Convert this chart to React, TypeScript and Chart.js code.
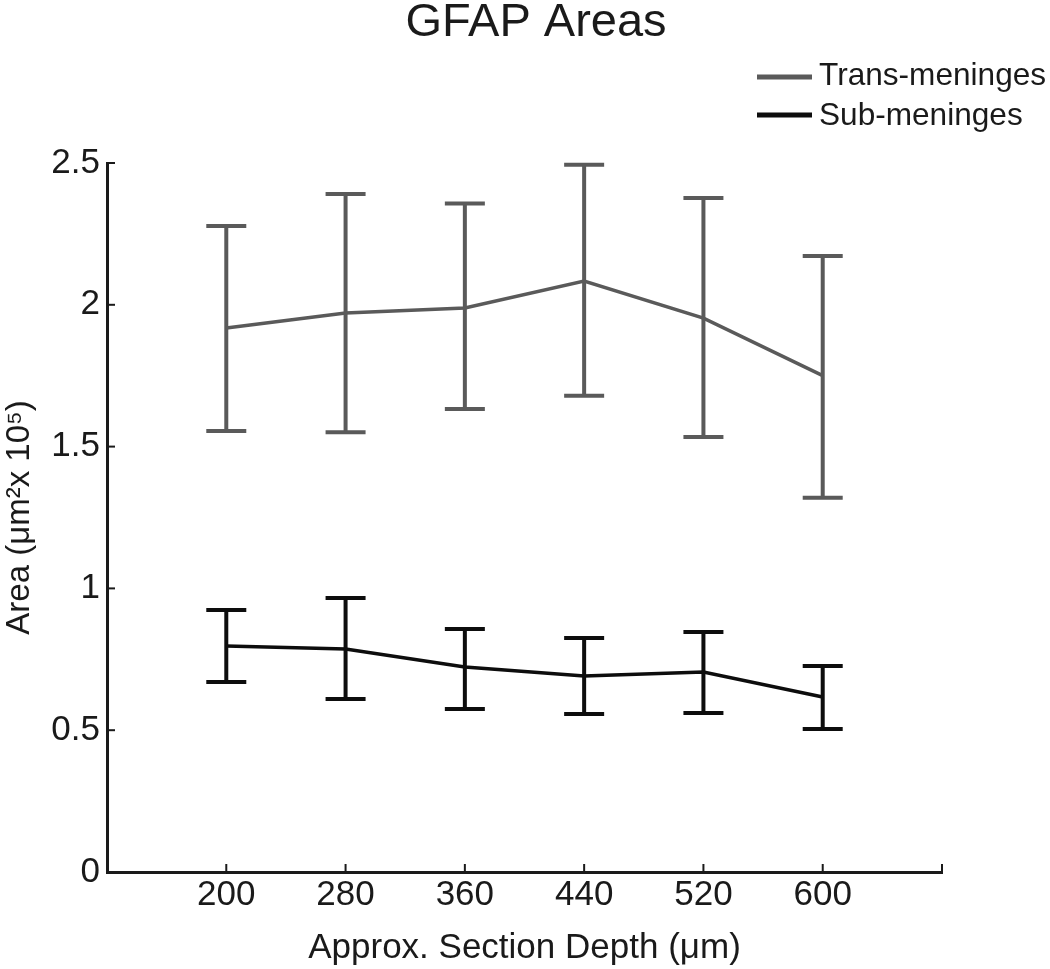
import React, { useEffect, useRef } from 'react';
import { Chart, registerables } from 'chart.js';

Chart.register(...registerables);

// ---- data ----
const depths = [200, 280, 360, 440, 520, 600];
const transMean = [1.918, 1.971, 1.989, 2.084, 1.953, 1.75];
const transUpper = [2.278, 2.391, 2.357, 2.494, 2.377, 2.172];
const transLower = [1.555, 1.551, 1.633, 1.679, 1.534, 1.32];
const subMean = [0.797, 0.786, 0.723, 0.691, 0.705, 0.617];
const subUpper = [0.924, 0.966, 0.857, 0.825, 0.846, 0.726];
const subLower = [0.67, 0.61, 0.575, 0.557, 0.561, 0.504];
const xTicks = [200, 280, 360, 440, 520, 600, 680];
const yTicks = [0, 0.5, 1, 1.5, 2, 2.5];
const seriesLabels = ['Trans-meninges', 'Sub-meninges'];
const chartTitle = 'GFAP Areas';
const xTitle = 'Approx. Section Depth (\u03bcm)';
const yTitle = 'Area (\u03bcm\u00b2x 10\u2075)';

const FONT = "'Liberation Sans', Arial, Helvetica, sans-serif";
const TEXT = '#1a1a1a';
const GREY = '#5a5a5a';
const BLACK = '#0d0d0d';

const errorBarPlugin = {
  id: 'errorBars',
  afterDatasetsDraw(chart: any) {
    const { ctx, scales } = chart;
    const x = scales.x;
    const y = scales.y;
    chart.data.datasets.forEach((ds: any) => {
      ctx.save();
      ctx.strokeStyle = ds.borderColor;
      ctx.lineWidth = ds.errWidth;
      ctx.lineCap = 'butt';
      ds.data.forEach((p: any, i: number) => {
        const px = x.getPixelForValue(p.x);
        const top = y.getPixelForValue(ds.errHigh[i]);
        const bot = y.getPixelForValue(ds.errLow[i]);
        ctx.beginPath();
        ctx.moveTo(px, top);
        ctx.lineTo(px, bot);
        ctx.moveTo(px - 20, top);
        ctx.lineTo(px + 20, top);
        ctx.moveTo(px - 20, bot);
        ctx.lineTo(px + 20, bot);
        ctx.stroke();
      });
      ctx.restore();
    });
  },
};

const inwardTicksPlugin = {
  id: 'inwardTicks',
  afterDraw(chart: any) {
    const { ctx, scales, chartArea } = chart;
    ctx.save();
    ctx.strokeStyle = TEXT;
    ctx.lineWidth = 2;
    scales.x.ticks.forEach((t: any) => {
      const px = scales.x.getPixelForValue(t.value);
      ctx.beginPath();
      ctx.moveTo(px, chartArea.bottom);
      ctx.lineTo(px, chartArea.bottom - 8);
      ctx.stroke();
    });
    scales.y.ticks.forEach((t: any) => {
      const py = scales.y.getPixelForValue(t.value);
      ctx.beginPath();
      ctx.moveTo(chartArea.left, py);
      ctx.lineTo(chartArea.left + 8, py);
      ctx.stroke();
    });
    ctx.restore();
  },
};

const headerPlugin = {
  id: 'header',
  afterDraw(chart: any) {
    const { ctx } = chart;
    ctx.save();
    ctx.fillStyle = TEXT;
    ctx.font = `47px ${FONT}`;
    ctx.textAlign = 'center';
    ctx.textBaseline = 'alphabetic';
    ctx.fillText(chartTitle, 536, 35.5);

    const rows = [
      { y: 77, base: 85 },
      { y: 115, base: 125 },
    ];
    chart.data.datasets.forEach((ds: any, i: number) => {
      const r = rows[i];
      ctx.strokeStyle = ds.borderColor;
      ctx.lineWidth = 5;
      ctx.beginPath();
      ctx.moveTo(757, r.y);
      ctx.lineTo(812, r.y);
      ctx.stroke();
      ctx.fillStyle = TEXT;
      ctx.font = `31.6px ${FONT}`;
      ctx.textAlign = 'left';
      ctx.textBaseline = 'alphabetic';
      ctx.fillText(ds.label, 819, r.base);
    });
    ctx.restore();
  },
};

export default function App() {
  const ref = useRef<HTMLCanvasElement | null>(null);

  useEffect(() => {
    document.body.style.margin = '0';
    const canvas = ref.current;
    if (!canvas) return;
    const chart = new Chart(canvas, {
      type: 'line',
      data: {
        datasets: [
          {
            label: seriesLabels[0],
            data: depths.map((d, i) => ({ x: d, y: transMean[i] })),
            borderColor: GREY,
            backgroundColor: GREY,
            borderWidth: 3.5,
            pointRadius: 0,
            tension: 0,
            errHigh: transUpper,
            errLow: transLower,
            errWidth: 4,
          } as any,
          {
            label: seriesLabels[1],
            data: depths.map((d, i) => ({ x: d, y: subMean[i] })),
            borderColor: BLACK,
            backgroundColor: BLACK,
            borderWidth: 3.5,
            pointRadius: 0,
            tension: 0,
            errHigh: subUpper,
            errLow: subLower,
            errWidth: 4,
          } as any,
        ],
      },
      options: {
        animation: false,
        responsive: false,
        maintainAspectRatio: false,
        layout: { padding: { left: 0, right: 108, top: 163, bottom: 0 } },
        plugins: {
          legend: { display: false },
          title: { display: false },
          tooltip: { enabled: false },
        },
        scales: {
          x: {
            type: 'linear',
            min: 120,
            max: 680,
            afterBuildTicks: (s: any) => {
              s.ticks = xTicks.map((v) => ({ value: v }));
            },
            afterFit: (s: any) => {
              s.height = 97;
            },
            ticks: {
              autoSkip: false,
              maxRotation: 0,
              padding: 2,
              color: TEXT,
              font: { family: FONT, size: 35 },
              callback: (v: any) => (v === 680 ? '' : String(v)),
            },
            grid: { display: false, drawTicks: false },
            border: { display: true, color: TEXT, width: 3 },
            title: {
              display: true,
              text: xTitle,
              color: TEXT,
              font: { family: FONT, size: 35, lineHeight: 1.2 },
              padding: 0,
            },
          },
          y: {
            type: 'linear',
            min: 0,
            max: 2.5,
            afterBuildTicks: (s: any) => {
              s.ticks = yTicks.map((v) => ({ value: v }));
            },
            afterFit: (s: any) => {
              s.width = 107;
            },
            ticks: {
              padding: 7,
              color: TEXT,
              font: { family: FONT, size: 35 },
              callback: (v: any) => String(v),
            },
            grid: { display: false, drawTicks: false },
            border: { display: true, color: TEXT, width: 3 },
            title: {
              display: true,
              text: yTitle,
              color: TEXT,
              font: { family: FONT, size: 33, lineHeight: 1.2 },
              padding: 0,
            },
          },
        },
      } as any,
      plugins: [errorBarPlugin, inwardTicksPlugin, headerPlugin],
    });
    return () => chart.destroy();
  }, []);

  return (
    <div style={{ width: 1050, height: 969, background: '#fff' }}>
      <canvas ref={ref} width={1050} height={969} style={{ display: 'block' }} />
    </div>
  );
}
